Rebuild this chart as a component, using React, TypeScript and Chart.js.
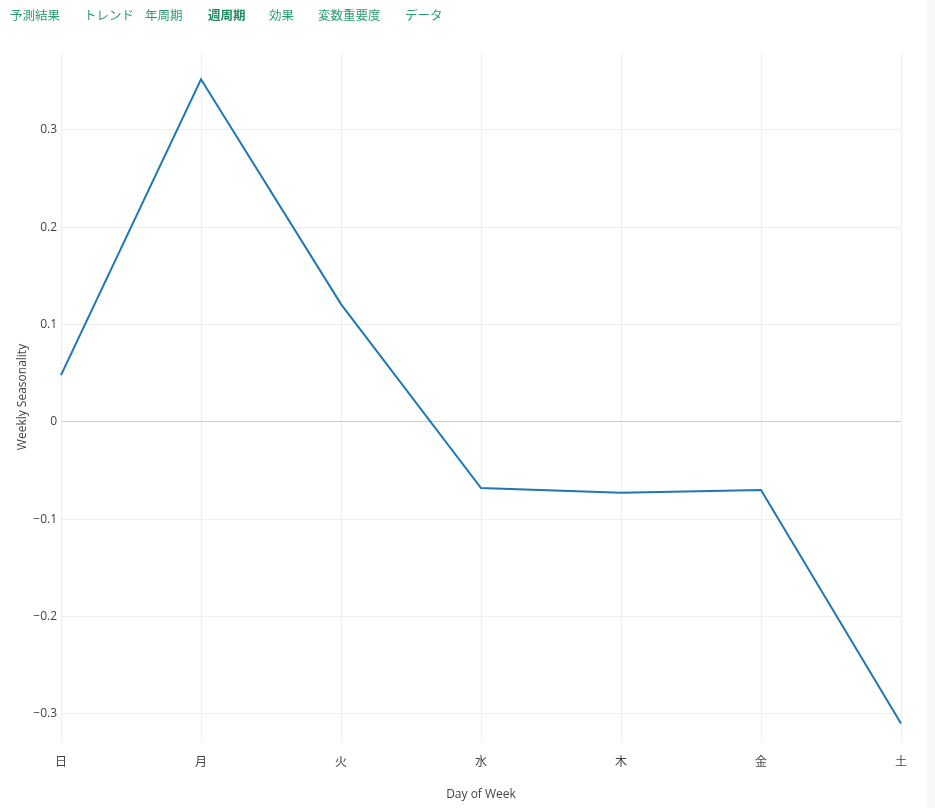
import React, { useEffect, useRef } from 'react';
import { Chart, registerables } from 'chart.js';

Chart.register(...registerables);

// tab labels across the top (週周期 is the active one)
const tabLabels = ['予測結果', 'トレンド', '年周期', '週周期', '効果', '変数重要度', 'データ'];
const activeTab = '週周期';

// weekly seasonality component by day
const days = ['日', '月', '火', '水', '木', '金', '土'];
const weeklyValues = [0.048, 0.352, 0.121, -0.068, -0.073, -0.070, -0.310];

const yMin = -0.328;
const yMax = 0.379;

const FONT = "'Open Sans', 'Noto Sans CJK JP', sans-serif";
const tabLeft = [10, 84, 145, 208, 269, 318, 405];

const WeeklyChart: React.FC = () => {
  const canvasRef = useRef<HTMLCanvasElement>(null);
  const chartRef = useRef<Chart | null>(null);

  useEffect(() => {
    if (!canvasRef.current) return;
    const ctx = canvasRef.current.getContext('2d');
    if (!ctx) return;

    chartRef.current = new Chart(ctx, {
      type: 'line',
      data: {
        labels: days,
        datasets: [{
          label: 'Weekly',
          data: weeklyValues,
          borderColor: '#1f77b4',
          borderWidth: 2,
          pointRadius: 0,
          tension: 0,
          fill: false,
        }],
      },
      options: {
        responsive: true,
        maintainAspectRatio: false,
        animation: false,
        layout: { padding: { top: 53, right: 26, left: 0, bottom: 0 } },
        plugins: {
          legend: { display: false },
          tooltip: { enabled: false },
        },
        scales: {
          x: {
            offset: false,
            border: { display: false },
            grid: { color: '#eeeeee', lineWidth: 1, drawTicks: false },
            ticks: { color: '#444', padding: 14, font: { family: FONT, size: 12 }, maxRotation: 0 },
            title: {
              display: true,
              text: 'Day of Week',
              color: '#444',
              font: { family: FONT, size: 12 },
              padding: { top: 0, bottom: 6 },
            },
            afterFit: (scale: any) => { scale.height = 67; },
          },
          y: {
            min: yMin,
            max: yMax,
            border: { display: false },
            grid: {
              drawTicks: false,
              color: (c: any) => (c.tick && Math.abs(c.tick.value) < 1e-9 ? '#d0d0d0' : '#eeeeee'),
              lineWidth: 1,
            },
            ticks: {
              stepSize: 0.1,
              color: '#444',
              padding: 4,
              font: { family: FONT, size: 12 },
              callback: (v: any) => {
                const n = Math.round(Number(v) * 10) / 10;
                if (n === 0) return '0';
                return n < 0 ? '\u2212' + Math.abs(n).toFixed(1) : n.toFixed(1);
              },
            },
            afterBuildTicks: (scale: any) => {
              scale.ticks = scale.ticks.filter(
                (t: any) => Math.abs(t.value * 10 - Math.round(t.value * 10)) < 1e-6
              );
            },
            title: {
              display: true,
              text: 'Weekly Seasonality',
              color: '#444',
              font: { family: FONT, size: 12 },
              padding: { top: 15, bottom: 0 },
            },
            afterFit: (scale: any) => { scale.width = 61; },
          },
        },
      },
    });

    return () => {
      if (chartRef.current) {
        chartRef.current.destroy();
        chartRef.current = null;
      }
    };
  }, []);

  return (
    <div style={{ position: 'absolute', left: 0, top: 0, width: 927, height: 808 }}>
      <canvas ref={canvasRef} />
    </div>
  );
};

const App: React.FC = () => {
  return (
    <div style={{ position: 'fixed', left: 0, top: 0, width: 935, height: 808, background: '#fff', overflow: 'hidden' }}>
      <WeeklyChart />
      {tabLabels.map((t, i) => (
        <div
          key={t}
          style={{
            position: 'absolute',
            left: tabLeft[i],
            top: 6,
            fontFamily: "'Noto Sans CJK JP', sans-serif",
            fontSize: 12.5,
            lineHeight: '18px',
            color: t === activeTab ? '#1b8a5f' : '#2a9d6f',
            fontWeight: t === activeTab ? 700 : 400,
            whiteSpace: 'nowrap',
          }}
        >
          {t}
        </div>
      ))}
      <div style={{ position: 'absolute', left: 927, top: 0, width: 8, height: 808, background: '#f8f8f8' }} />
    </div>
  );
};

export default App;
